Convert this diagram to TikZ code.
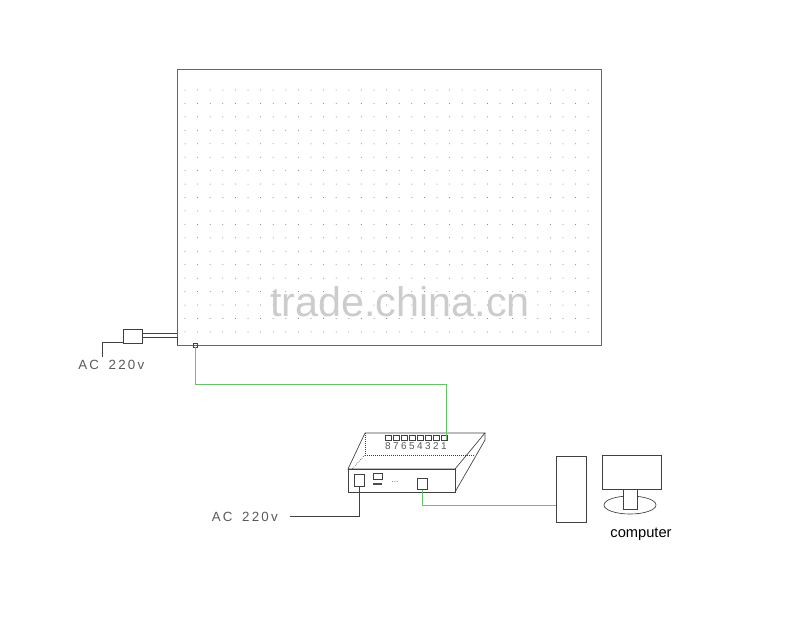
\documentclass[tikz,border=0pt]{standalone}
\usepackage{fontspec}
\setmainfont{Liberation Sans}
\begin{document}
\begin{tikzpicture}[x=0.75pt,y=-0.75pt,
  ln/.style={draw=black!75,line width=0.5pt},
  gl/.style={draw=green!60!black!60,line width=0.6pt},
  lbl/.style={font=\fontsize{10}{12}\selectfont,text=black!65,inner sep=0pt}]
\useasboundingbox (0,0) rectangle (800,640);
% panel
\node[ln,draw=black!60,line width=0.6pt,minimum width=424*0.75pt,minimum height=276*0.75pt,inner sep=0pt] (panel) at (389,207) {};
\foreach \i in {0,...,32}{\foreach \j in {0,...,18}{
  \fill[black!55] (185+12.6*\i,90+13.44*\j) circle (0.5);}}
\node[font=\fontsize{31}{34}\selectfont,text=black!20] (wm) at (400,302) {trade.china.cn};
% port on panel
\node[ln,minimum size=3pt,inner sep=0pt] (pp) at (195,345) {};
\coordinate (c1) at (195,384); \coordinate (c2) at (446,384);
% power on panel
\node[ln,minimum width=19*0.75pt,minimum height=14*0.75pt,inner sep=0pt] (plug) at (133,336) {};
\draw[ln] (143,333) -- (177,333) (143,337) -- (177,337) -- (177,345);
\coordinate (pb) at (102,357);
\draw[ln] (plug.west |- 0,342) -- (102,342) -- (pb);
\node[lbl,anchor=west] (ac1) at (78,365) {A\,C\;\, 2\,2\,0\,v};
% controller
\draw[ln] (348,469) -- (365,433) -- (485,433) -- (455,469) -- cycle;
\draw[ln] (348,469) rectangle (455,492);
\draw[ln] (485,433) -- (485,440) -- (455,492);
\draw[ln,densely dotted] (365,433) -- (365,455) -- (475,455);
\draw[ln,densely dotted] (365,455) -- (352,469);
\foreach \k/\n in {0/8,1/7,2/6,3/5,4/4,5/3,6/2,7/1}{
  \draw[ln] (385+8*\k,435) rectangle +(6,5);
  \node[lbl,font=\fontsize{7.5}{8}\selectfont] (num\n) at (388+8*\k,446) {\n};}
\node[ln,minimum width=10*0.75pt,minimum height=12*0.75pt,inner sep=0pt] (acin) at (359,480) {};
\draw[ln] (373,473) rectangle (382,479);
\fill[black!70] (373,483) rectangle (382,485);
\node[lbl,font=\fontsize{6}{6}\selectfont] (dd) at (395,482) {...};
\node[ln,minimum width=10*0.75pt,minimum height=11*0.75pt,inner sep=0pt] (out) at (422,484) {};
\coordinate (ca) at (359,516); \coordinate (cb) at (290,516);
\draw[ln] (acin.south) -- (ca) -- (cb);
\node[lbl,anchor=east] (ac2) at (278,517) {A\,C\;\, 2\,2\,0\,v};
% green links
\draw[gl] (pp.south) -- (c1) -- (c2) -- (446,440);
\coordinate (g1) at (422,505);
\node[ln,minimum width=30*0.75pt,minimum height=66*0.75pt,inner sep=0pt] (tower) at (571,489) {};
\draw[gl] (out.south) -- (g1) -- (tower.west |- g1);
% monitor
\node[ln,minimum width=59*0.75pt,minimum height=34*0.75pt,inner sep=0pt] (mon) at (631.5,472) {};
\draw[ln] (630,505) ellipse (26 and 9);
\fill[white] (623,489) rectangle (637,509);
\draw[ln] (623,489) rectangle (637,509);
\node[lbl,text=black,font=\fontsize{11}{13}\selectfont] (comp) at (641,534) {computer};
\end{tikzpicture}
\end{document}
